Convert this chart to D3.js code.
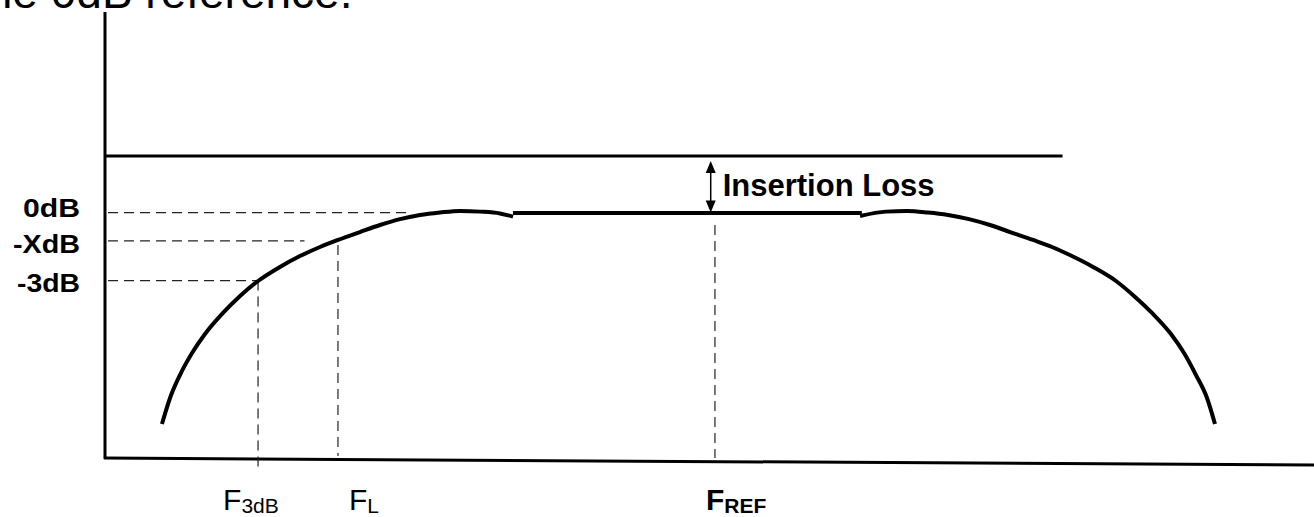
<!DOCTYPE html>
<head>
<style>
body { margin: 0; background: #fff; }
.curve { fill: none; stroke: #000; stroke-width: 4px; }
.guide { fill: none; stroke: #222; stroke-width: 1.2px; stroke-dasharray: 10,6; }
.axis { fill: none; stroke: #000; stroke-width: 3px; }
text { font-family: Arial, "Liberation Sans", sans-serif; fill: #000; }
</style>
<meta charset="utf-8">
<title></title>
</head>
<body>
<script src="https://d3js.org/d3.v7.min.js"></script>
<script>

// frequency in arbitrary units (0..100 along the axis), level in dB
var leftArcF  = [4.71, 5.38, 6.20, 7.20, 8.27, 9.76, 11.17, 12.66, 14.47, 16.13, 17.78, 19.27,
                 21.09, 22.75, 24.40, 26.05, 27.71, 29.36, 31.02, 32.67, 33.75];
var leftArcDb = [-9.33, -8.18, -7.17, -6.20, -5.36, -4.43, -3.68, -3.02, -2.40, -1.92, -1.52, -1.21,
                 -0.86, -0.55, -0.29, -0.11, 0, 0.07, 0.04, -0.04, -0.18];
var flatF  = [33.75, 62.6];
var flatDb = [-0.02, -0.02];
var rightArcF  = [62.45, 64.60, 66.34, 68.07, 69.73, 71.46, 73.20, 74.86, 76.76, 78.33, 79.98,
                  81.72, 83.62, 85.11, 86.60, 88.17, 89.25, 90.24, 91.15, 91.81];
var rightArcDb = [-0.15, 0.04, 0.07, 0, -0.11, -0.29, -0.55, -0.86, -1.21, -1.52, -1.92,
                  -2.40, -3.02, -3.68, -4.43, -5.36, -6.20, -7.17, -8.18, -9.33];

var levelLabels = ["0dB", "-XdB", "-3dB"];
var levelDb     = [0, -1.25, -3];
var levelEndF   = [25.1, 16.5, 12.66];

var freqLabels = ["F", "F", "F"];
var freqSubs   = ["3dB", "L", "REF"];
var freqF      = [12.66, 19.27, 50.45];
var freqTopDb  = [-3, -1.43, -0.55];
var freqBotDb  = [-11.27, -10.74, -10.83];

var refDb = 2.49;        // level of the reference (top) line
var refEndF = 79.2;
var lossF = 50.1;        // where the insertion loss arrow sits

var width = 1314, height = 517;

var svg = d3.select("body").append("svg")
    .attr("width", width)
    .attr("height", height);

var x = d3.scaleLinear().domain([0, 100]).range([105, 1314]);
var y = d3.scaleLinear().domain([-11, 9]).range([461.9, 8.5]);

var line = d3.line()
    .x(function(d) { return x(d[0]); })
    .y(function(d) { return y(d[1]); });
var smooth = d3.line()
    .x(function(d) { return x(d[0]); })
    .y(function(d) { return y(d[1]); })
    .curve(d3.curveMonotoneX);

// title text, cut off by the top edge
svg.append("text")
    .attr("x", -26).attr("y", 8)
    .style("font-size", "46px")
    .text("the 0dB reference.");

// axes
svg.append("path").attr("class", "axis")
    .attr("d", line([[0, 8.85], [0, -10.85]]));
svg.append("path").attr("class", "axis")
    .attr("d", line([[-0.1, -10.83], [100, -11.14]]));

// reference line
svg.append("path").attr("class", "axis")
    .attr("d", line([[0, refDb], [refEndF, refDb]]));

// dashed level guides
levelDb.forEach(function(v, i) {
    svg.append("path").attr("class", "guide")
        .attr("d", line([[0.25, v], [levelEndF[i], v]]));
    svg.append("text")
        .attr("x", 80).attr("y", y(v) + [4, 12, 11][i])
        .attr("text-anchor", "end")
        .attr("textLength", [57, 67, 63][i])
        .attr("lengthAdjust", "spacingAndGlyphs")
        .style("font-size", "25px").style("font-weight", "bold")
        .text(levelLabels[i]);
});

// dashed frequency guides
freqF.forEach(function(f, i) {
    svg.append("path").attr("class", "guide")
        .attr("d", line([[f, freqTopDb[i]], [f, freqBotDb[i]]]));
    var t = svg.append("text")
        .attr("x", x(f) - [35, -11, 9][i]).attr("y", 510)
        .style("font-size", "30px")
        .style("font-weight", i == 2 ? "bold" : "normal");
    t.append("tspan").text(freqLabels[i]);
    t.append("tspan").attr("dy", 3).style("font-size", "21px").text(freqSubs[i]);
});

// response curve
svg.append("path").attr("class", "curve")
    .attr("d", smooth(d3.zip(leftArcF, leftArcDb)));
svg.append("path").attr("class", "curve")
    .attr("d", line(d3.zip(flatF, flatDb)));
svg.append("path").attr("class", "curve")
    .attr("d", smooth(d3.zip(rightArcF, rightArcDb)));

// insertion loss arrow
var ax = x(lossF), aTop = y(refDb) + 5, aBot = y(0);
svg.append("line")
    .attr("x1", ax).attr("x2", ax)
    .attr("y1", aTop + 8).attr("y2", aBot - 8)
    .attr("stroke", "#000").attr("stroke-width", 1.5);
svg.append("path")
    .attr("d", "M" + ax + "," + aTop + "l-5,12h10z");
svg.append("path")
    .attr("d", "M" + ax + "," + aBot + "l-5,-12h10z");
svg.append("text")
    .attr("x", ax + 12).attr("y", 196)
    .style("font-size", "31px").style("font-weight", "bold")
    .text("Insertion Loss");

</script>
</body>
</html>
